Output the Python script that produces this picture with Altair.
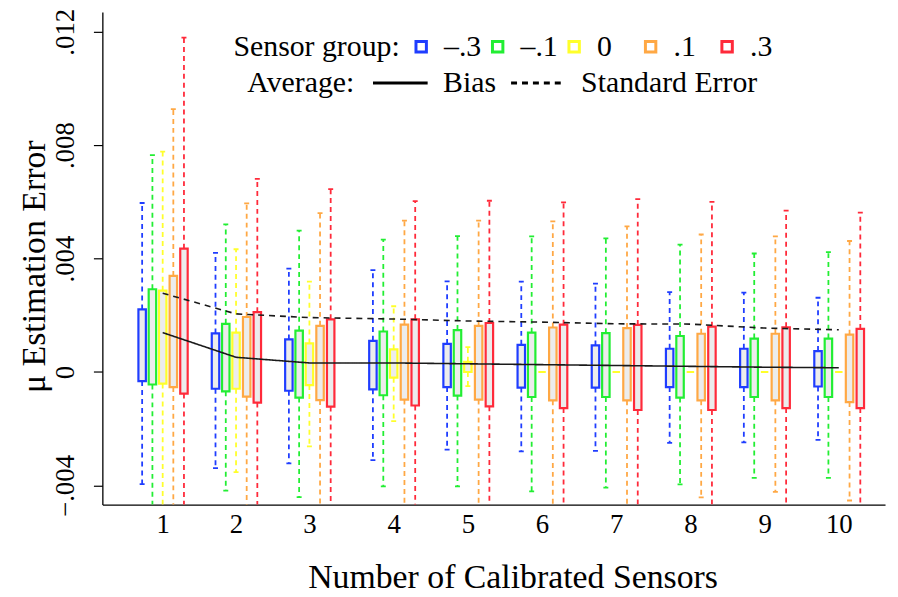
import altair as alt
import pandas as pd

# ---------------- data ----------------
n_sensors = [1, 2, 3, 4, 5, 6, 7, 8, 9, 10]
groups = ["–.3", "–.1", "0", ".1", ".3"]
colors = ["#1f3dff", "#22ee33", "#ffff2a", "#ffa844", "#ff2a3a"]

# box upper edges (Q3)
q3_m3 = [0.00221, 0.00136, 0.00115, 0.00110, 0.00099, 0.00096, 0.00094, 0.00082, 0.00082, 0.00074]
q3_m1 = [0.00292, 0.00170, 0.00146, 0.00143, 0.00148, 0.00139, 0.00137, 0.00127, 0.00118, 0.00118]
q3_0 = [0.00287, 0.00139, 0.00101, 0.00080, 0.00036, 0.0, 0.0, 0.0, 0.0, 0.0]
q3_p1 = [0.00339, 0.00194, 0.00163, 0.00167, 0.00163, 0.00157, 0.00155, 0.00135, 0.00135, 0.00132]
q3_p3 = [0.00435, 0.00211, 0.00186, 0.00186, 0.00173, 0.00167, 0.00166, 0.00160, 0.00158, 0.00152]

# box lower edges (Q1)
q1_m3 = [-0.00032, -0.00059, -0.00066, -0.00061, -0.00053, -0.00055, -0.00055, -0.00053, -0.00053, -0.00051]
q1_m1 = [-0.00044, -0.00068, -0.00090, -0.00082, -0.00083, -0.00088, -0.00088, -0.00090, -0.00088, -0.00088]
q1_0 = [-0.00041, -0.00059, -0.00046, -0.00020, 0.0, 0.0, 0.0, 0.0, 0.0, 0.0]
q1_p1 = [-0.00053, -0.00087, -0.00099, -0.00097, -0.00097, -0.00100, -0.00100, -0.00100, -0.00100, -0.00106]
q1_p3 = [-0.00076, -0.00108, -0.00122, -0.00118, -0.00121, -0.00127, -0.00134, -0.00134, -0.00127, -0.00127]

# upper whisker ends
hi_m3 = [0.00596, 0.00420, 0.00365, 0.00359, 0.00320, 0.00319, 0.00312, 0.00282, 0.00280, 0.00262]
hi_m1 = [0.00765, 0.00521, 0.00499, 0.00467, 0.00479, 0.00478, 0.00471, 0.00449, 0.00418, 0.00423]
hi_0 = [0.00777, 0.00433, 0.00319, 0.00232, 0.00088, 0.0, 0.0, 0.0, 0.0, 0.0]
hi_p1 = [0.00927, 0.00595, 0.00560, 0.00534, 0.00534, 0.00531, 0.00514, 0.00485, 0.00478, 0.00462]
hi_p3 = [0.01179, 0.00681, 0.00645, 0.00603, 0.00604, 0.00598, 0.00610, 0.00600, 0.00569, 0.00562]

# lower whisker ends (those running off the plot are estimated below the axis)
lo_m3 = [-0.00395, -0.00339, -0.00322, -0.00311, -0.00274, -0.00280, -0.00278, -0.00250, -0.00248, -0.00239]
lo_m1 = [-0.00500, -0.00418, -0.00441, -0.00403, -0.00403, -0.00421, -0.00408, -0.00396, -0.00373, -0.00373]
lo_0 = [-0.00500, -0.00353, -0.00262, -0.00173, -0.00050, 0.0, 0.0, 0.0, 0.0, 0.0]
lo_p1 = [-0.00520, -0.00500, -0.00500, -0.00500, -0.00500, -0.00500, -0.00500, -0.00442, -0.00423, -0.00453]
lo_p3 = [-0.00550, -0.00550, -0.00550, -0.00550, -0.00550, -0.00550, -0.00550, -0.00550, -0.00550, -0.00550]

bias = [0.00139, 0.00052, 0.00032, 0.00032, 0.00029, 0.00026, 0.00023, 0.00020, 0.00017, 0.00015]
std_err = [0.00278, 0.00205, 0.00192, 0.00187, 0.00180, 0.00176, 0.00170, 0.00169, 0.00155, 0.00149]

y_ticks = [-0.004, 0, 0.004, 0.008, 0.012]

# ---------------- tables ----------------
Q3 = [q3_m3, q3_m1, q3_0, q3_p1, q3_p3]
Q1 = [q1_m3, q1_m1, q1_0, q1_p1, q1_p3]
HI = [hi_m3, hi_m1, hi_0, hi_p1, hi_p3]
LO = [lo_m3, lo_m1, lo_0, lo_p1, lo_p3]
dodge = [-0.28, -0.14, 0.0, 0.145, 0.29]

rows = []
for gi, g in enumerate(groups):
    for i, n in enumerate(n_sensors):
        rows.append(dict(n=n, group=g, order=gi, pos=n + dodge[gi],
                         q1=Q1[gi][i], q3=Q3[gi][i], lo=LO[gi][i], hi=HI[gi][i]))
df = pd.DataFrame(rows)

lines = pd.DataFrame(
    [dict(n=n, stat="Bias", value=v) for n, v in zip(n_sensors, bias)]
    + [dict(n=n, stat="Standard Error", value=v) for n, v in zip(n_sensors, std_err)]
)

FONT = "Liberation Serif"
W, H = 788, 496

xscale = alt.Scale(domain=[0.244, 3.45, 3.55, 10.557], range=[0, 241.7, 259.7, W],
                   nice=False, zero=False)
yscale = alt.Scale(domain=[-0.004676, 0.012697], nice=False, zero=False)
col_scale = alt.Scale(domain=groups, range=colors)

x_axis = alt.Axis(values=n_sensors, title="Number of Calibrated Sensors", grid=False,
                  ticks=False, tickSize=0, labelFontSize=27, labelFont=FONT, labelColor="black",
                  labelBaseline="alphabetic", labelPadding=28, labelFlush=False,
                  domainColor="black", domainWidth=1.3,
                  titleFontSize=34, titleFont=FONT, titleFontWeight="normal", titleColor="black",
                  titleX=413, titleY=83, titleBaseline="alphabetic", titleAlign="center")
y_axis = alt.Axis(values=y_ticks, title="μ Estimation Error", grid=False,
                  labelExpr="datum.value == 0 ? '0' : replace(format(datum.value, '.3f'), '0.', '.')",
                  labelAngle=270, labelAlign="center", labelBaseline="alphabetic",
                  labelPadding=20, labelFontSize=27, labelFont=FONT, labelColor="black",
                  tickSize=9, tickColor="black", tickWidth=1.2,
                  domainColor="black", domainWidth=1.3,
                  titleFontSize=34, titleFont=FONT, titleFontWeight="normal", titleColor="black",
                  titleAngle=270, titleX=-58, titleY=256, titleBaseline="alphabetic", titleAlign="center")

group_legend = alt.Legend(
    title="Sensor group:", orient="none", legendX=132, legendY=20,
    direction="horizontal", titleOrient="left", titleAnchor="middle", gridAlign="all",
    titleFont=FONT, titleFontSize=30, titleFontWeight="normal", titleColor="black",
    titlePadding=6, titleBaseline="middle", titleLimit=400,
    labelFont=FONT, labelFontSize=30, labelColor="black", labelOffset=8, labelLimit=200,
    labelBaseline="middle",
    symbolType="square", symbolSize=110, symbolStrokeWidth=3, symbolDash=[1, 0],
    symbolFillColor="white", columnPadding=1)

X = alt.X("pos:Q", scale=xscale, axis=x_axis)
Y = lambda f: alt.Y(f, scale=yscale, axis=y_axis)
col = alt.Color("group:N", scale=col_scale, sort=groups, legend=group_legend)

base = alt.Chart(df)
has_whisk = "datum.hi > datum.q3"

box_fill = base.mark_bar(size=7.5, color="#ececec").encode(
    x=X, y=Y("q1:Q"), y2="q3:Q")
box_edge = base.mark_bar(size=7.5, filled=False, strokeWidth=2.2).encode(
    x=X, y=Y("q1:Q"), y2="q3:Q", color=col)

up_whisk = base.transform_filter(has_whisk).mark_rule(strokeDash=[5, 4], strokeWidth=1.8, clip=True).encode(
    x=X, y=Y("q3:Q"), y2="hi:Q", color=col)
lo_whisk = base.transform_filter(has_whisk).mark_rule(strokeDash=[5, 4], strokeWidth=1.8, clip=True).encode(
    x=X, y=Y("q1:Q"), y2="lo:Q", color=col)
up_cap = base.transform_filter(has_whisk).mark_rule(
    xOffset=-2.5, x2Offset=2.5, strokeWidth=1.8, clip=True).encode(
    x=X, x2="pos:Q", y=Y("hi:Q"), color=col)
lo_cap = base.transform_filter(has_whisk).mark_rule(
    xOffset=-2.5, x2Offset=2.5, strokeWidth=1.8, clip=True).encode(
    x=X, x2="pos:Q", y=Y("lo:Q"), color=col)

avg = alt.Chart(lines).mark_line(color="#1a1a1a", strokeWidth=1.6).encode(
    x=alt.X("n:Q", scale=xscale, axis=x_axis),
    y=Y("value:Q"),
    strokeDash=alt.StrokeDash(
        "stat:N",
        scale=alt.Scale(domain=["Bias", "Standard Error"], range=[[1, 0], [6, 5]]),
        legend=alt.Legend(
            title="Average:", orient="none", legendX=146, legendY=42.5,
            direction="horizontal", titleOrient="left", titleAnchor="middle",
            titleFont=FONT, titleFontSize=30, titleFontWeight="normal", titleColor="black",
            titlePadding=17, titleBaseline="line-top", titleLineHeight=15, titleLimit=400,
            labelFont=FONT, labelFontSize=30, labelColor="black", labelOffset=14, labelLimit=400,
            labelBaseline="middle",
            symbolType="stroke", symbolSize=3025, symbolStrokeWidth=3, symbolStrokeColor="black",
            columnPadding=8)),
)

chart = alt.layer(box_fill, box_edge, up_whisk, lo_whisk, up_cap, lo_cap, avg).properties(
    width=W, height=H,
    autosize=alt.AutoSizeParams(type="none"),
    padding={"left": 95, "top": 2, "right": 5, "bottom": 91},
).configure(font=FONT, view=alt.ViewConfig(stroke=None))

chart.save("out.html", embed_options={"renderer": "svg", "actions": False})
